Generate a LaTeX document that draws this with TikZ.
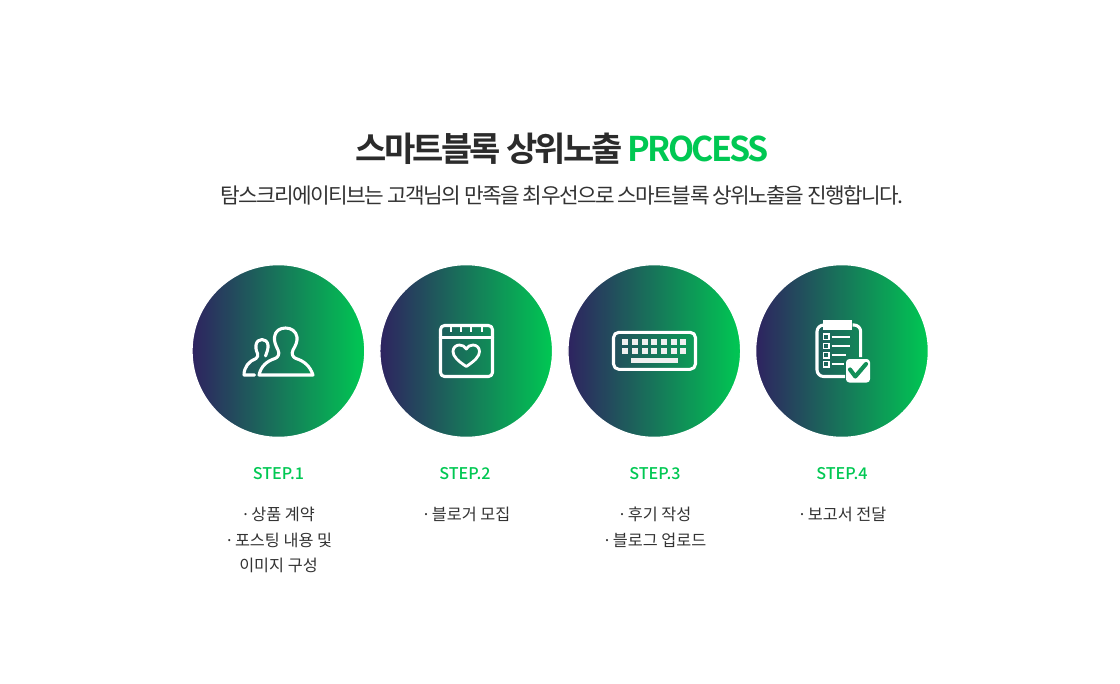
\documentclass[tikz,border=0pt]{standalone}
\usepackage{fontspec}
\setmainfont{Noto Sans CJK KR}
\newfontfamily\titlefont[LetterSpace=-8.1,BoldFont={Noto Sans CJK KR Bold}]{Noto Sans CJK KR}
\newfontfamily\subfont[LetterSpace=-7.5]{Noto Sans CJK KR}
\newfontfamily\stepfont{Noto Sans CJK KR Medium}
\definecolor{gleft}{HTML}{2E2360}
\definecolor{gright}{HTML}{00C853}
\definecolor{ink}{HTML}{333333}
\definecolor{title}{HTML}{2B2B2B}
\definecolor{accent}{HTML}{00C853}
\definecolor{tick}{HTML}{128F58}
\newcommand{\bulletdot}{·\kern-2pt\ }
\tikzset{
  disc/.style={circle,inner sep=0pt,minimum size=129.6pt,left color=gleft,right color=gright,draw=white,line width=1pt},
  icon/.style={draw=white,line width=2.3pt,line join=round,line cap=round},
  iconthin/.style={draw=white,line width=1.5pt,line cap=butt},
  steplabel/.style={text=accent,font=\fontsize{12.1pt}{15pt}\stepfont,anchor=center},
  body/.style={text=ink,font=\fontsize{12.2pt}{15pt}\selectfont,anchor=center,inner sep=0pt}
}
\begin{document}
\begin{tikzpicture}[x=0.75pt,y=-0.75pt]
\useasboundingbox (0,0) rectangle (1120,683);
\fill[white] (0,0) rectangle (1120,683);
% headings
\node[anchor=center,inner sep=0pt] (head) at (562,149)
  {\fontsize{25.5pt}{30pt}\titlefont\bfseries\textcolor{title}{스마트블록 상위노출} \textcolor{accent}{PROCESS}};
\node[anchor=center,inner sep=0pt,text=ink] (sub) at (562,195)
  {\fontsize{16pt}{20pt}\subfont 탐스크리에이티브는 고객님의 만족을 최우선으로 스마트블록 상위노출을 진행합니다.};
% discs
\node[disc] (d1) at (278.4,351) {};
\node[disc] (d2) at (466.2,351) {};
\node[disc] (d3) at (654.3,351) {};
\node[disc] (d4) at (842,351) {};
% icon 1: people
\draw[icon] (259,375) -- (313,375)
  .. controls (310,366) and (304,361) .. (296,358.5)
  .. controls (293,357.5) and (291,354) .. (293,350)
  .. controls (296,345) and (297.5,341) .. (297,337)
  .. controls (296,331) and (291,328) .. (285.5,328)
  .. controls (280,328) and (275,331) .. (274.5,337)
  .. controls (274,341) and (275.5,345) .. (278,350)
  .. controls (280,354) and (278,357.5) .. (275,358.5)
  .. controls (267,361) and (261,366) .. (259,375) -- cycle;
\draw[icon] (254.5,375) -- (244,375)
  .. controls (244,367) and (249,361) .. (256,358.5)
  .. controls (258,357.5) and (258,355) .. (257.5,353.5)
  .. controls (256,350) and (255.5,347) .. (256,345)
  .. controls (256.5,341.5) and (259,339.5) .. (262,339.5)
  .. controls (265,339.5) and (267.5,341.5) .. (268,345)
  .. controls (268.5,348) and (267,352) .. (265.5,356);
% icon 2: calendar
\draw[icon,rounded corners=3pt] (440.5,325.5) rectangle (492.5,376.5);
\draw[icon] (440.5,337.3) -- (492.5,337.3);
\foreach \tx in {451,461,471,481.7} \draw[icon,line width=1.7pt,line cap=butt] (\tx,326) -- (\tx,332);
\draw[icon,line width=2.1pt] (466.3,366.5)
  .. controls (458,361) and (453,356.5) .. (453,351.5)
  .. controls (453,347.5) and (456,345) .. (459.5,345)
  .. controls (462.5,345) and (465,346.5) .. (466.3,349)
  .. controls (467.5,346.5) and (470,345) .. (473,345)
  .. controls (476.5,345) and (479.5,347.5) .. (479.5,351.5)
  .. controls (479.5,356.5) and (474.5,361) .. (466.3,366.5) -- cycle;
% icon 3: keyboard
\draw[icon,rounded corners=4pt] (613.5,332.3) rectangle (695.5,369.3);
\foreach \kx in {625.3,635,644.7,654.3,664,673.7,683.3}
  \foreach \ky in {341.7,351}
    \fill[white!94!black] (\kx-2.9,\ky-2.9) rectangle (\kx+2.9,\ky+2.9);
\fill[white!94!black] (631,357.7) rectangle (677.7,363);
% icon 4: clipboard
\draw[icon,line cap=butt,rounded corners=5pt] (823,325) -- (817,325) -- (817,376.5) -- (845,376.5);
\draw[icon,line cap=butt,rounded corners=5pt] (852.5,325) -- (860.7,325) -- (860.7,357);
\fill[white] (823.2,320) rectangle (852.4,330);
\foreach \ly/\lx in {336.7/850,346/850,355.3/846,364.3/843.5}{
  \draw[iconthin,line width=1pt] (823.8,\ly-2.6) rectangle (829,\ly+2.6);
  \draw[iconthin] (831.5,\ly) -- (\lx,\ly);
}
\fill[white,rounded corners=2.5pt] (846,359) rectangle (870,382.5);
\draw[tick,line width=3.1pt,line cap=round,line join=round] (850,369.5) -- (855.3,376.5) -- (866,364);
% labels
\foreach \n/\cx/\t in {1/278.5/STEP.1,2/465/STEP.2,3/655/STEP.3,4/842/STEP.4}
  \node[steplabel] (s\n) at (\cx,473.5) {\t};
\node[body] (t1a) at (278,514.5) {\bulletdot 상품 계약};
\node[body] (t1b) at (278.5,540) {\bulletdot 포스팅 내용 및};
\node[body] (t1c) at (278.5,565) {이미지 구성};
\node[body] (t2a) at (466,514.5) {\bulletdot 블로거 모집};
\node[body] (t3a) at (654.5,514.5) {\bulletdot 후기 작성};
\node[body] (t3b) at (654.5,540) {\bulletdot 블로그 업로드};
\node[body] (t4a) at (842,514.5) {\bulletdot 보고서 전달};
\end{tikzpicture}
\end{document}
